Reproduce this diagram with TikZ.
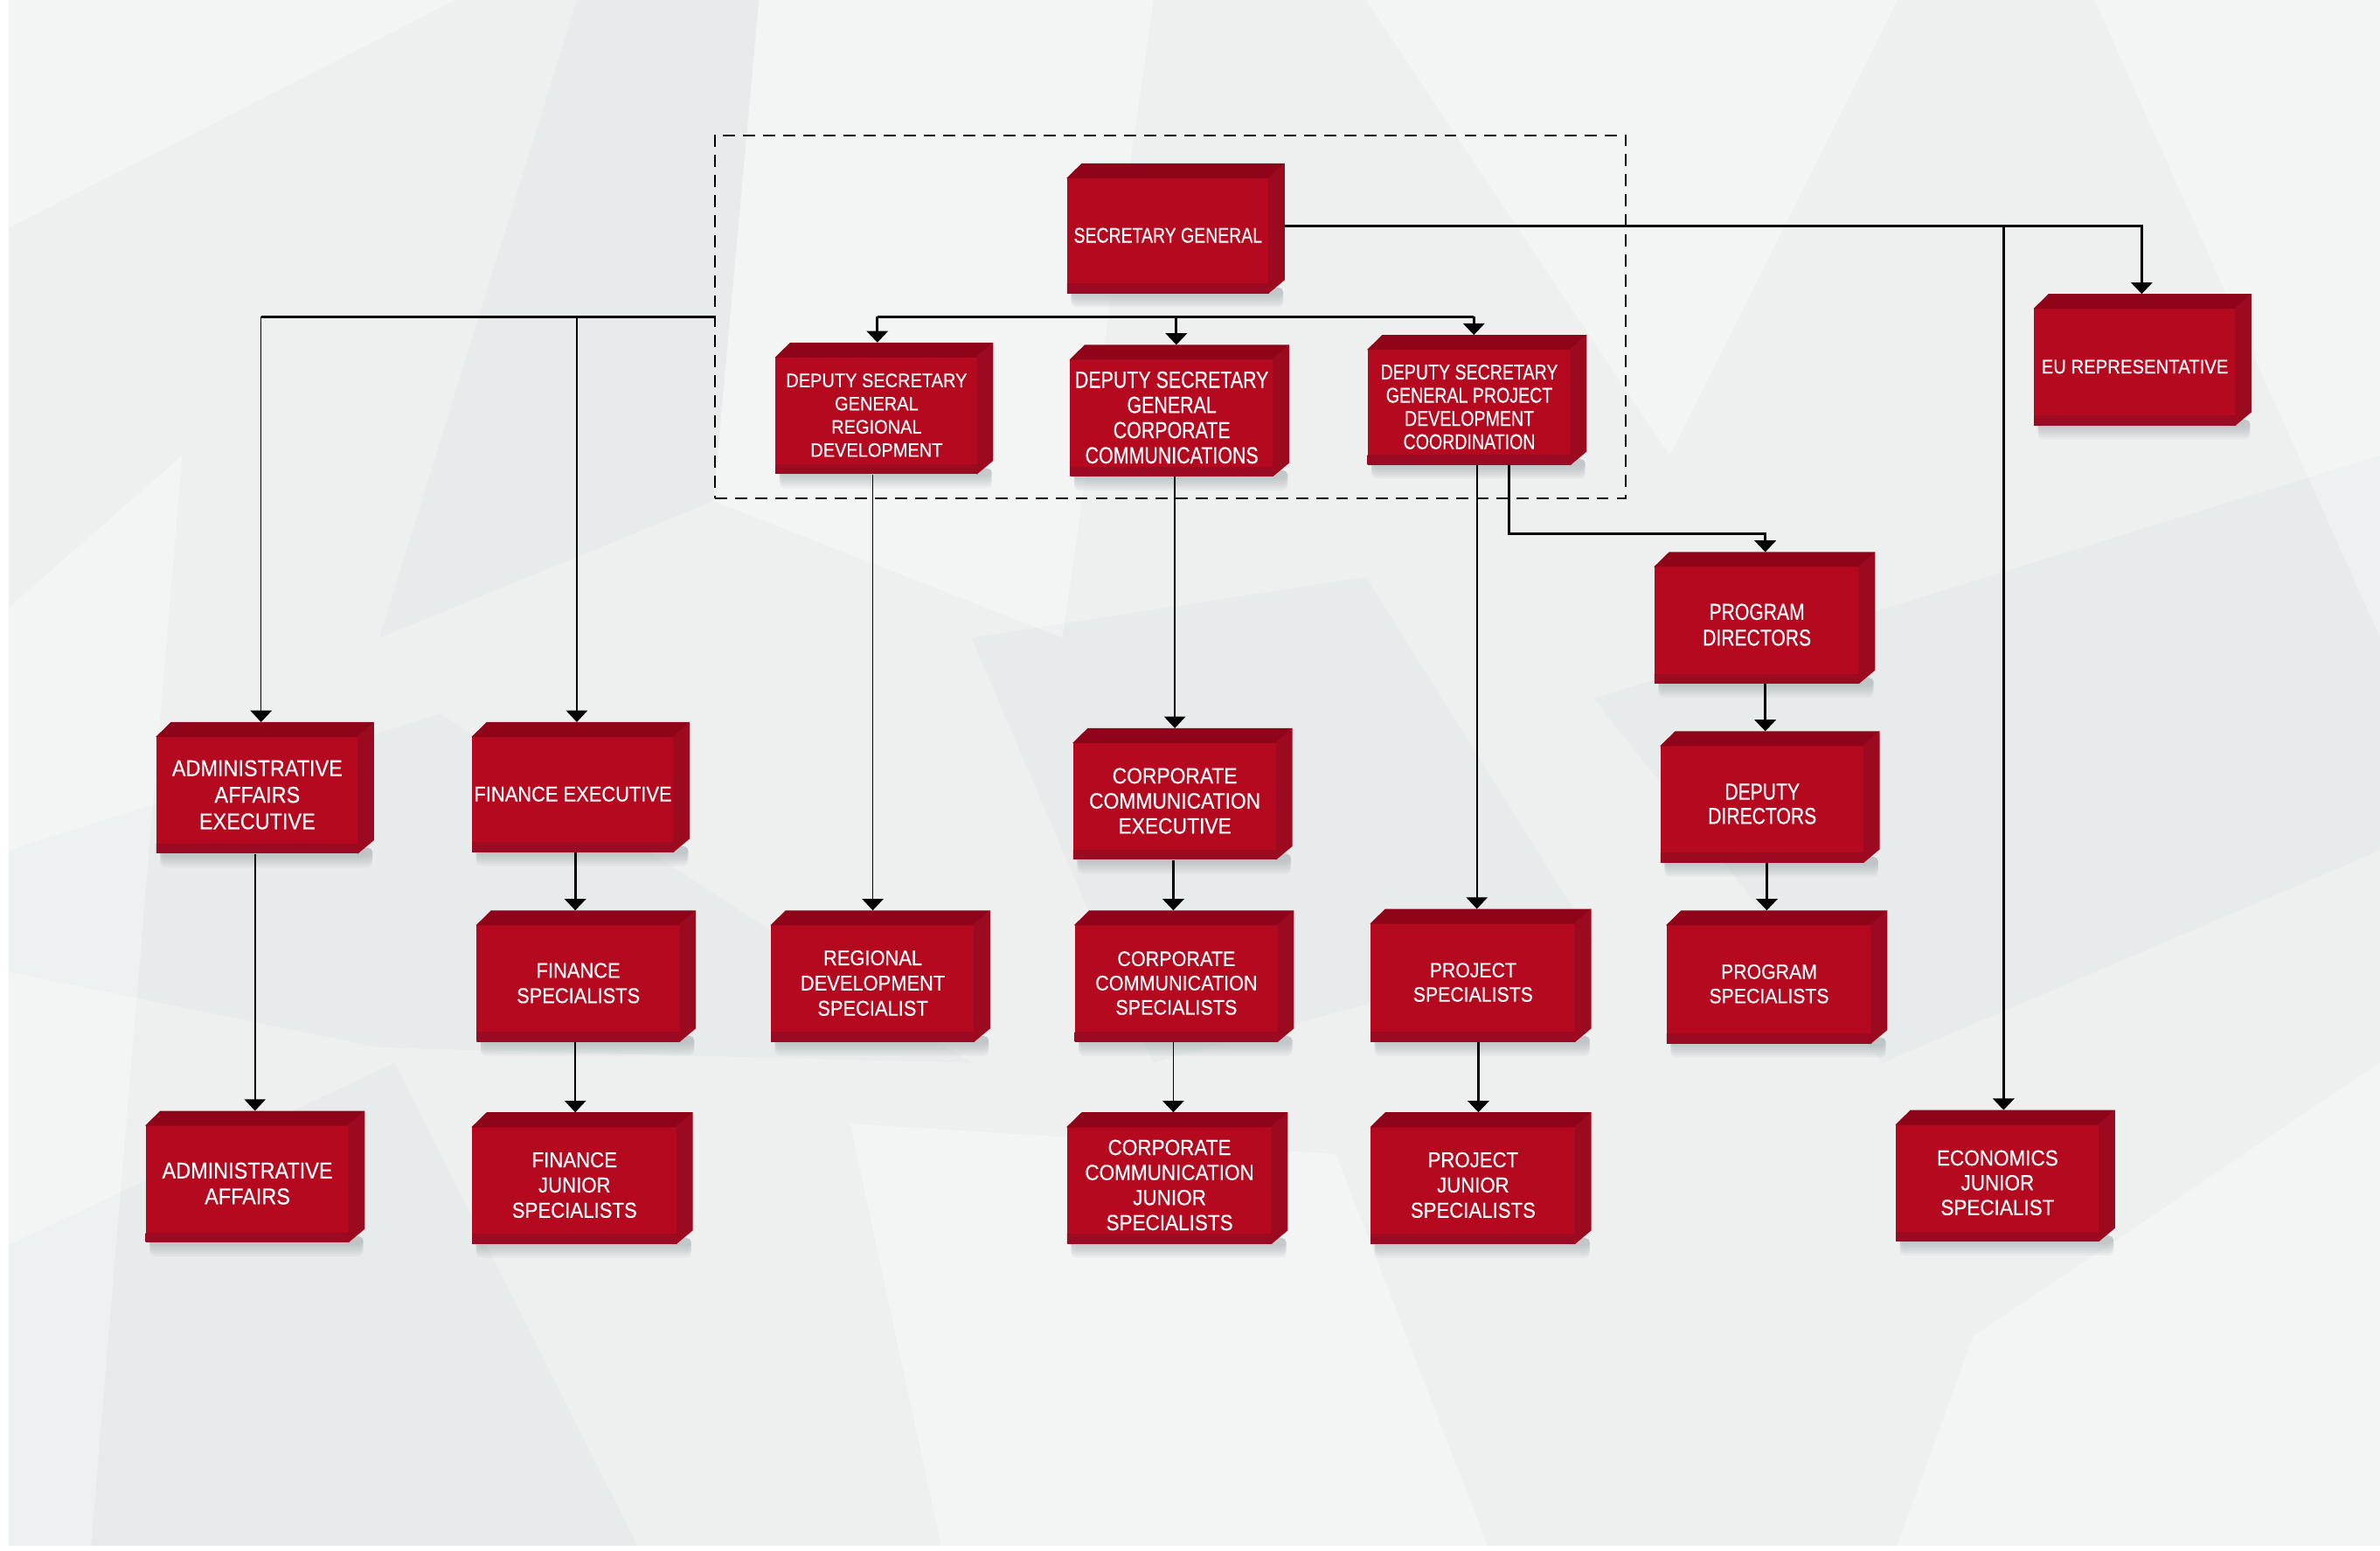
\documentclass[tikz,border=0pt]{standalone}
\usepackage{fontspec}
\setmainfont{Liberation Sans}
\newfontfamily\rfont[FakeStretch=0.9,FakeBold=0.25]{Liberation Sans}
\newfontfamily\cfont[FakeStretch=0.8,FakeBold=0.25]{Liberation Sans}
\usetikzlibrary{arrows.meta}
\pgfdeclarelayer{bgl}
\pgfdeclarelayer{shd}
\pgfsetlayers{bgl,shd,main}
\definecolor{boxfront}{HTML}{B5091F}
\definecolor{boxbot}{HTML}{9A0A22}
\definecolor{boxtop}{HTML}{8E0519}
\definecolor{boxside}{HTML}{9B0A1F}
\definecolor{bgbase}{HTML}{EEF0F0}
\definecolor{bgdark}{HTML}{E8EBEB}
\definecolor{shadowc}{HTML}{8E979C}

\tikzset{
  orgbox/.style 2 args={fill=boxfront, text=white, align=center, inner sep=0pt,
    minimum width=#1*0.5pt, minimum height=#2*0.5pt,
    path picture={\shade[top color=boxfront, bottom color=boxbot]
      ([yshift=3pt]path picture bounding box.south west) rectangle
      (path picture bounding box.south east);}},
  rfs/.style 2 args={font=\rfont\fontsize{#1}{#2}\selectfont},
  cfs/.style 2 args={font=\cfont\fontsize{#1}{#2}\selectfont},
  ln/.style={line width=0.85pt, draw=black},
  thinln/.style={line width=0.45pt, draw=black},
  arr/.style={-{Triangle[width=7pt,length=3.8pt]}},
  grpbox/.style={draw=black, line width=0.6pt, dash pattern=on 4pt off 2.6pt,
    inner sep=0pt, fill=none},
  lightfacet/.style={fill=white, opacity=0.3, draw=none},
  darkfacet/.style={fill=bgdark, draw=none},
}

% #1 node name, #2 x offset of arrow tip (in reference pixels)
\newcommand\orgfaces[2]{%
  \fill[boxtop] ([yshift=-0.4pt]#1.north west) -- ([xshift=5pt,yshift=4.5pt]#1.north west)
     -- ([xshift=5pt,yshift=4.5pt]#1.north east) -- ([yshift=-0.4pt]#1.north east) -- cycle;
  \fill[boxside] ([xshift=-0.4pt]#1.north east) -- ([xshift=5pt,yshift=4.5pt]#1.north east)
     -- ([xshift=5pt,yshift=4.5pt]#1.south east) -- ([xshift=-0.4pt]#1.south east) -- cycle;
  \begin{pgfonlayer}{shd}
    \foreach \k in {1,...,6}{%
      \fill[shadowc, opacity=0.09, rounded corners=1.5pt]
        ([xshift=1.5pt,yshift=2pt]#1.south west) rectangle
        ([xshift=4.5pt,yshift=-\k*0.75pt]#1.south east);}
  \end{pgfonlayer}
  \coordinate (#1-t) at ([xshift=#2*0.5pt,yshift=4.5pt]#1.north);
}

\begin{document}
\begin{tikzpicture}[x=0.5pt,y=-0.5pt]
\useasboundingbox (0,0) rectangle (1568,1021.5);

% background
\begin{pgfonlayer}{bgl}
  \fill[white] (0,0) rectangle (1568,1021.5);
  \fill[bgbase] (6,0) rectangle (1568,1018);
  \fill[darkfacet] (6,560) -- (290,470) -- (640,700) -- (250,690) -- (6,640) -- cycle;
  \fill[darkfacet] (640,420) -- (900,380) -- (1050,620) -- (760,700) -- cycle;
  \fill[darkfacet] (1050,460) -- (1568,300) -- (1568,560) -- (1240,700) -- cycle;
  \fill[darkfacet] (6,820) -- (260,700) -- (420,1018) -- (6,1018) -- cycle;
  \fill[darkfacet] (380,0) -- (500,0) -- (470,330) -- (250,420) -- cycle;
  \fill[lightfacet] (500,0) -- (760,0) -- (700,420) -- (470,330) -- cycle;
  \fill[lightfacet] (1380,0) -- (1568,0) -- (1568,420) -- cycle;
  \fill[lightfacet] (1300,880) -- (1568,700) -- (1568,1018) -- (1250,1018) -- cycle;
  \fill[lightfacet] (6,0) -- (300,0) -- (6,150) -- cycle;
  \fill[lightfacet] (560,740) -- (880,760) -- (980,1018) -- (620,1018) -- cycle;
  \fill[lightfacet] (900,0) -- (1250,0) -- (1100,300) -- cycle;
  \fill[lightfacet] (6,400) -- (120,300) -- (60,1018) -- (6,1018) -- cycle;
\end{pgfonlayer}

% group frame
\node[grpbox, minimum width=300pt, minimum height=119.5pt] (grp) at (771,208.5) {};

% boxes
\node[orgbox={133}{76}, cfs={7}{8}] (sg) at (769.5,155) {SECRETARY GENERAL};
\orgfaces{sg}{0}
\node[orgbox={133}{77}, rfs={6.4}{7.65}] (dsgr) at (577.5,273.5)
  {DEPUTY SECRETARY\\GENERAL\\REGIONAL\\DEVELOPMENT};
\orgfaces{dsgr}{0.5}
\node[orgbox={134}{77}, cfs={7.7}{8.3}] (dsgc) at (772,275)
  {DEPUTY SECRETARY\\GENERAL\\CORPORATE\\COMMUNICATIONS};
\orgfaces{dsgc}{3}
\node[orgbox={134}{76}, cfs={7.05}{7.65}] (dsgp) at (968,268)
  {DEPUTY SECRETARY\\GENERAL PROJECT\\DEVELOPMENT\\COORDINATION};
\orgfaces{dsgp}{3}
\node[orgbox={133}{77}, rfs={6.5}{8}] (eu) at (1406.5,241.5) {EU REPRESENTATIVE};
\orgfaces{eu}{4.5}
\node[orgbox={133}{77}, rfs={7.5}{8.75}] (aae) at (169.5,523.5)
  {ADMINISTRATIVE\\AFFAIRS\\EXECUTIVE};
\orgfaces{aae}{2.5}
\node[orgbox={133}{76}, rfs={7}{8.3}] (fe) at (377.5,523) {FINANCE EXECUTIVE};
\orgfaces{fe}{2.5}
\node[orgbox={134}{77}, rfs={7.3}{8.25}] (cce) at (774,527.5)
  {CORPORATE\\COMMUNICATION\\EXECUTIVE};
\orgfaces{cce}{0}
\node[orgbox={135}{77}, cfs={7.6}{8.5}] (pd) at (1157.5,411.5) {PROGRAM\\DIRECTORS};
\orgfaces{pd}{5.5}
\node[orgbox={134}{77}, cfs={7.6}{8}] (dd) at (1161,529.5) {DEPUTY\\DIRECTORS};
\orgfaces{dd}{2}
\node[orgbox={134}{77}, rfs={7}{8.3}] (fs) at (381,647.5) {FINANCE\\SPECIALISTS};
\orgfaces{fs}{-2}
\node[orgbox={134}{77}, rfs={7}{8.3}] (rds) at (575,647.5)
  {REGIONAL\\DEVELOPMENT\\SPECIALIST};
\orgfaces{rds}{0}
\node[orgbox={134}{77}, rfs={6.9}{8}] (ccs) at (775,647.5)
  {CORPORATE\\COMMUNICATION\\SPECIALISTS};
\orgfaces{ccs}{-2}
\node[orgbox={135}{78}, rfs={6.8}{8}] (ps) at (970.5,647) {PROJECT\\SPECIALISTS};
\orgfaces{ps}{2.5}
\node[orgbox={135}{78}, rfs={6.8}{8}] (pgs) at (1165.5,648) {PROGRAM\\SPECIALISTS};
\orgfaces{pgs}{-1.5}
\node[orgbox={134}{77}, rfs={7.5}{8.5}] (aa) at (163,779.5) {ADMINISTRATIVE\\AFFAIRS};
\orgfaces{aa}{5}
\node[orgbox={135}{77}, rfs={7.1}{8.3}] (fj) at (378.5,780.5)
  {FINANCE\\JUNIOR\\SPECIALISTS};
\orgfaces{fj}{0.5}
\node[orgbox={135}{77}, rfs={7.2}{8.25}] (ccj) at (770.5,780.5)
  {CORPORATE\\COMMUNICATION\\JUNIOR\\SPECIALISTS};
\orgfaces{ccj}{2.5}
\node[orgbox={135}{77}, rfs={7.1}{8.3}] (pj) at (970.5,780.5)
  {PROJECT\\JUNIOR\\SPECIALISTS};
\orgfaces{pj}{3.5}
\node[orgbox={134}{77}, rfs={7.2}{8.15}] (ej) at (1316,779)
  {ECONOMICS\\JUNIOR\\SPECIALIST};
\orgfaces{ej}{4}

% connectors
\coordinate (sgR) at ([xshift=5pt,yshift=3pt]sg.east);
\draw[ln,arr] (sgR) -| (eu-t);
\draw[ln,arr] (sgR -| ej-t) -- (ej-t);

\draw[ln] (grp.west) -- (grp.west -| aae-t);
\draw[thinln,arr] (grp.west -| aae-t) -- (aae-t);
\draw[thinln,arr] (grp.west -| fe-t) -- (fe-t);

\draw[ln] (grp.west -| dsgr-t) -- (grp.west -| dsgp-t);
\draw[ln,arr] (grp.west -| dsgr-t) -- (dsgr-t);
\draw[ln,arr] (grp.west -| dsgc-t) -- (dsgc-t);
\draw[ln,arr] (grp.west -| dsgp-t) -- (dsgp-t);

\draw[thinln,arr] (rds-t |- dsgr.south) -- (rds-t);
\draw[thinln,arr] (cce-t |- dsgc.south) -- (cce-t);
\draw[thinln,arr] (ps-t |- dsgp.south) -- (ps-t);
\draw[ln,arr] ([xshift=13pt]dsgp.south) |- ([yshift=6pt]pd-t) -- (pd-t);

\draw[ln,arr] (dd-t |- pd.south) -- (dd-t);
\draw[ln,arr] (pgs-t |- dd.south) -- (pgs-t);
\draw[ln,arr] (ccs-t |- cce.south) -- (ccs-t);
\draw[thinln,arr] (ccj-t |- ccs.south) -- (ccj-t);
\draw[ln,arr] (pj-t |- ps.south) -- (pj-t);
\draw[thinln,arr] (aa-t |- aae.south) -- (aa-t);
\draw[ln,arr] (fs-t |- fe.south) -- (fs-t);
\draw[thinln,arr] (fj-t |- fs.south) -- (fj-t);
\end{tikzpicture}
\end{document}
